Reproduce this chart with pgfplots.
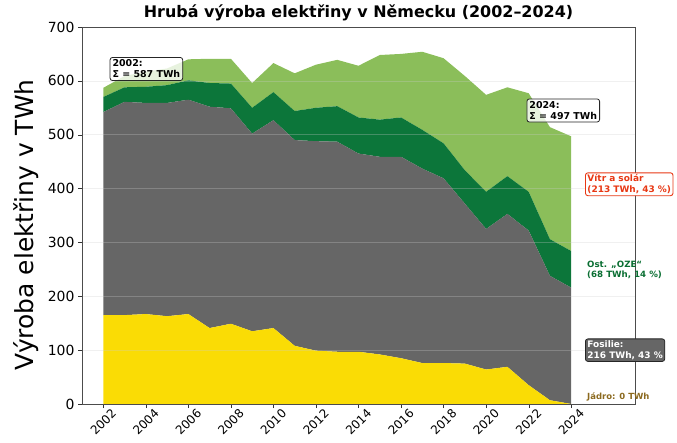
\documentclass[border=0pt]{standalone}
\usepackage{fontspec}
\setmainfont{DejaVu Sans}
\usepackage{pgfplots}
\pgfplotsset{compat=1.18}
\usepackage{pgfplotstable}
\definecolor{nuc}{RGB}{250,220,5}
\definecolor{fos}{RGB}{102,102,102}
\definecolor{ore}{RGB}{12,118,58}
\definecolor{ws}{RGB}{139,190,90}
\definecolor{wsred}{RGB}{232,56,20}
\definecolor{oretxt}{RGB}{10,110,50}
\definecolor{jad}{RGB}{139,105,30}

\pgfplotstableread{
year nuc fos ore ws
2002 165 377 28 17
2003 165 396 27 21
2004 167 392 30 28
2005 163 396 33 31
2006 167 398 36 39
2007 141 411 44 45
2008 149 400 46 46
2009 135 367 48 46
2010 141 386 52 54
2011 108 382 54 70
2012 99 389 62 80
2013 97 390 66 86
2014 97 368 67 96
2015 92 367 69 120
2016 85 374 73 118
2017 76 361 72 145
2018 76 343 65 158
2019 75 297 62 175
2020 64 261 69 180
2021 69 284 70 165
2022 35 287 72 183
2023 7 231 68 208
2024 0 216 68 213
}\data

\begin{document}
\begin{tikzpicture}
\begin{axis}[
  name=ax,
  scale only axis,
  width=553bp, height=377bp,
  xmin=2001, xmax=2027, ymin=0, ymax=700,
  stack plots=y,
  xtick={2002,2004,...,2024},
  ytick={0,100,...,700},
  /pgf/number format/assume math mode=true,
  /pgf/number format/1000 sep={},
  tick pos=left,
  tick align=outside,
  major tick length=4bp,
  tick style={black!80},
  axis line style={black!70},
  ymajorgrids,
  grid style={white!80!black, line width=0.5pt, opacity=0.3},
  axis on top,
  clip=false,
  x tick label style={rotate=45, anchor=center, font=\fontsize{12}{14}\selectfont},
  xticklabel shift=14bp,
  y tick label style={font=\fontsize{14}{16}\selectfont},
  title={Hrubá výroba elektřiny v Německu (2002–2024)},
  title style={font=\bfseries\fontsize{16}{18}\selectfont, yshift=-3bp},
  ylabel={Výroba elektřiny v TWh},
  every axis y label/.append style={at={(ticklabel cs:0.475)}},
  ylabel style={font=\fontsize{25}{29}\selectfont, yshift=2bp},
]
\addplot[fill=nuc, draw=none] table[x=year,y=nuc]{\data} \closedcycle;
\addplot[fill=fos, draw=none] table[x=year,y=fos]{\data} \closedcycle;
\addplot[fill=ore, draw=none] table[x=year,y=ore]{\data} \closedcycle;
\addplot[fill=ws, draw=none] table[x=year,y=ws]{\data} \closedcycle;
\coordinate (a2002) at (axis cs:2002.3,622);
\coordinate (a2024) at (axis cs:2021.9,545);
\coordinate (aws) at (axis cs:2024.65,408);
\coordinate (aore) at (axis cs:2024.65,249);
\coordinate (afos) at (axis cs:2024.65,100);
\coordinate (anuc) at (axis cs:2024.65,13);
\end{axis}
\node[draw=black!85, line width=0.8bp, fill=white, fill opacity=0.8, text opacity=1, draw opacity=1, rounded corners=2.5bp, anchor=west, align=left, inner sep=2.5bp, font=\bfseries\fontsize{9.5}{11}\selectfont] at (a2002) {2002:\\Σ = 587 TWh};
\node[draw=black!85, line width=0.8bp, fill=white, fill opacity=0.8, text opacity=1, draw opacity=1, rounded corners=2.5bp, anchor=west, align=left, inner sep=2.5bp, font=\bfseries\fontsize{9.5}{11}\selectfont] at (a2024) {2024:\\Σ = 497 TWh};
\node[draw=wsred, line width=0.9bp, fill=white, text=wsred, rounded corners=2.5bp, anchor=west, align=left, inner sep=2bp, font=\bfseries\fontsize{9}{10.5}\selectfont] at (aws) {Vítr a solár\\(213 TWh, 43 \%)};
\node[text=oretxt, anchor=west, align=left, inner sep=2bp, font=\bfseries\fontsize{8.7}{10}\selectfont] at (aore) {Ost. „OZE“\\(68 TWh, 14 \%)};
\node[draw=black!85, line width=0.8bp, fill=fos, text=white, rounded corners=2.5bp, anchor=west, align=left, inner sep=2bp, font=\bfseries\fontsize{9}{10.5}\selectfont] at (afos) {Fosilie:\\216 TWh, 43 \%};
\node[text=jad, anchor=west, inner sep=2bp, font=\bfseries\fontsize{8.5}{10}\selectfont] at (anuc) {Jádro: 0 TWh};
\pgfresetboundingbox
\path[use as bounding box] ([xshift=-82bp,yshift=-39bp]ax.south west) rectangle ++(677bp,443bp);
\end{tikzpicture}
\end{document}
